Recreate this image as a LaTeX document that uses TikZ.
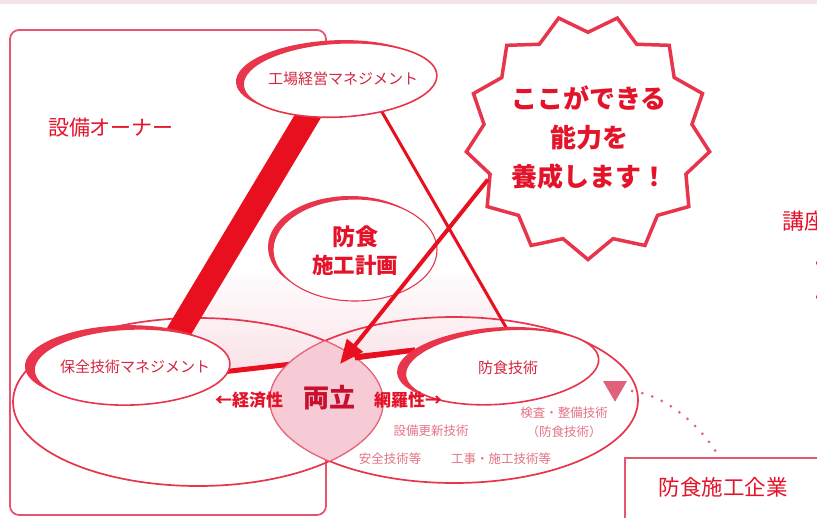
\documentclass[tikz,border=0pt]{standalone}
\usepackage{fontspec}
\setmainfont{Noto Sans CJK JP}
\usetikzlibrary{shapes.geometric,arrows.meta,calc}
\definecolor{barred}{HTML}{E8101F}
\definecolor{outred}{HTML}{E8354C}
\definecolor{boxred}{HTML}{E8566E}
\definecolor{lensfill}{HTML}{F6CBD5}
\definecolor{lensline}{HTML}{E2738A}
\definecolor{shpink}{HTML}{F6D2DB}
\definecolor{lblred}{HTML}{D42640}
\definecolor{smallred}{HTML}{E57384}
\definecolor{txtred}{HTML}{E4132A}
\definecolor{darkred}{HTML}{C8102E}
\definecolor{topband}{HTML}{F2E4E8}
\definecolor{dotred}{HTML}{E0627A}
\pgfdeclareverticalshading{trishade}{100bp}{color(0bp)=(shpink); color(22bp)=(shpink!75!white); color(45bp)=(white); color(100bp)=(white)}
\begin{document}
\begin{tikzpicture}[x=1pt,y=-1pt,
  lbl/.style={text=lblred, font=\fontsize{15}{15}\selectfont, inner sep=0},
  small/.style={text=smallred, font=\fontsize{12.5}{15}\selectfont, inner sep=0},
  boldred/.style={text=txtred, font=\fontsize{17}{17}\selectfont\bfseries, inner sep=0},
  ell/.style={draw=outred, line width=1.6, fill=white},
  crescent/.style={fill=outred},
  bigell/.style={draw=outred, line width=1.7}]
\useasboundingbox (0,0) rectangle (817,517);
\clip (0,0) rectangle (817,517);
\fill[white] (0,0) rectangle (817,517);
\fill[topband] (0,0) rectangle (817,4);

% owner box
\draw[boxred, line width=1.8, rounded corners=9] (10,30) rectangle (326,515);
\node[font=\fontsize{21}{21}\selectfont, text=txtred, inner sep=0] (owner) at (111,128) {設備オーナー};

% named coordinates
\coordinate (plantL) at (314,106);
\coordinate (hozenT) at (172,343);
\coordinate (plantR) at (378,105);
\coordinate (boshokuT) at (511,336);
\coordinate (hozenR) at (222,372);
\coordinate (boshokuL) at (415,350);
\coordinate (lensR) at (355,358);
\coordinate (tip) at (340,364);

% triangle shading
\shade[shading=trishade]
  (300,100) -- (385,100) -- (508,330) -- (415,350) -- (228,372) -- (167,335) -- cycle;

% base line (under lens)
\draw[barred, line width=5] (hozenR) -- (boshokuL);

% big ellipses
\draw[bigell] (198,402) ellipse [x radius=185, y radius=84];
\draw[bigell] (454,400) ellipse [x radius=184, y radius=83];

% thick bar and thin line
\draw[barred, line width=24] (plantL) -- (hozenT);
\draw[barred, line width=3] (plantR) -- (boshokuT);

% lens
\begin{scope}
\clip (198,402) ellipse [x radius=185, y radius=84];
\fill[lensfill] (454,400) ellipse [x radius=184, y radius=83];
\draw[lensline, line width=0.9] (454,400) ellipse [x radius=184, y radius=83];
\end{scope}
\begin{scope}
\clip (454,400) ellipse [x radius=184, y radius=83];
\draw[lensline, line width=0.9] (198,402) ellipse [x radius=185, y radius=84];
\end{scope}
\draw[barred, line width=5] (lensR) -- (boshokuL);

% small ellipses with crescents
\fill[crescent, rotate around={3:(340,80)}] (333,77) ellipse [x radius=97, y radius=37];
\filldraw[ell, rotate around={3:(340,80)}] (340,80) ellipse [x radius=97, y radius=37];
\node[lbl] (plant) at (343,79) {工場経営マネジメント};

\fill[crescent] (350,247) ellipse [x radius=82, y radius=51];
\filldraw[ell, line width=1.1] (355,250) ellipse [x radius=82, y radius=51];
\node[text=txtred, font=\fontsize{23}{23}\selectfont\bfseries, inner sep=0] (plan1) at (355,237) {防食};
\node[text=txtred, font=\fontsize{21.5}{21.5}\selectfont\bfseries, inner sep=0] (plan2) at (355,265) {施工計画};

\fill[crescent, rotate around={2:(132,367)}] (123,363) ellipse [x radius=98, y radius=38];
\filldraw[ell, rotate around={2:(132,367)}] (132,367) ellipse [x radius=98, y radius=38];
\node[lbl] (hozen) at (135,367) {保全技術マネジメント};

\fill[crescent, rotate around={5:(502,367)}] (494,364) ellipse [x radius=97, y radius=37];
\filldraw[ell, rotate around={5:(502,367)}] (502,367) ellipse [x radius=97, y radius=37];
\node[lbl] (boshoku) at (508,368) {防食技術};

% starburst
\node[star, star points=13, star point ratio=1.17, shape border rotate=13.85,
      minimum size=245pt, inner sep=0, draw=outred, line width=3.5, fill=white] (burst) at (588,137) {};
\node[align=center, text=txtred, font=\fontsize{26}{39}\selectfont\bfseries, inner sep=0] (bursttext) at (589,138)
  {ここができる\\能力を\\養成します！};

% arrow
\draw[barred, line width=4, -{Triangle[length=24pt,width=20pt]}] (burst.-157) -- (tip);

% lens texts
\node[boldred] (econ) at (249,400) {←経済性};
\node[text=darkred, font=\fontsize{26}{26}\selectfont\bfseries, inner sep=0] (ryoritsu) at (329,398) {両立};
\node[boldred] (cover) at (408,400) {網羅性→};

\node[small] (t1) at (431,431) {設備更新技術};
\node[small] (t2) at (390,459) {安全技術等};
\node[small] (t3) at (501,459) {工事・施工技術等};
\node[small] (t4) at (564,413) {検査・整備技術};
\node[small] (t5) at (564,432) {（防食技術）};

% marker and company
\node[regular polygon, regular polygon sides=3, shape border rotate=180, fill=dotred,
      minimum size=27.5pt, inner sep=0] (tri) at (615,388) {};
\coordinate (dotstart) at (632,391);
\coordinate (dotend) at (718,455);
\draw[dotred, line width=3, line cap=round, dash pattern=on 0pt off 10.5pt]
  (dotstart) .. controls (665,395) and (700,425) .. (dotend);
\draw[boxred, line width=2.5] (625,540) -- (625,458) -- (840,458);
\node[font=\fontsize{21.5}{21.5}\selectfont, text=txtred, inner sep=0] (company) at (723,487) {防食施工企業};

% right edge partial content
\node[font=\fontsize{22}{22}\selectfont, text=txtred, inner sep=0, anchor=west] (course) at (782,221) {講座};
\fill[txtred] (819,263) circle (3);
\fill[txtred] (819,297) circle (3);
\end{tikzpicture}
\end{document}
